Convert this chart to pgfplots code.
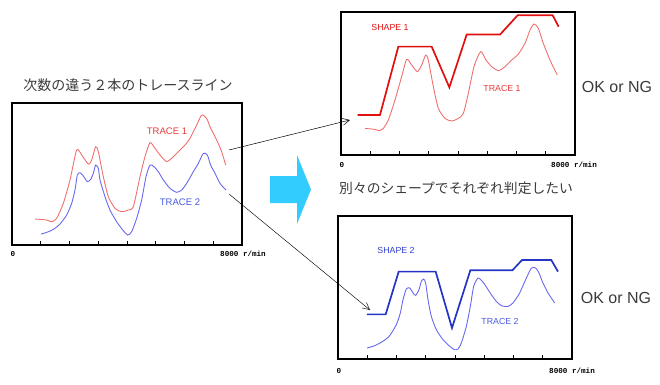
\documentclass[border=0pt]{standalone}
\usepackage{fontspec}
\setmainfont{Liberation Sans}
\newfontfamily\jp{Noto Sans CJK JP}
\newfontfamily\mono{Liberation Mono}
\usepackage{pgfplots}
\pgfplotsset{compat=1.18}
\usetikzlibrary{arrows.meta}
\definecolor{tr1}{HTML}{F07070}
\definecolor{sh1}{HTML}{E01010}
\definecolor{tr2}{HTML}{6868F0}
\definecolor{sh2}{HTML}{2434C4}
\definecolor{tx1}{HTML}{E83838}
\definecolor{tx2}{HTML}{4858E0}
\definecolor{cy}{HTML}{33CCFF}
\definecolor{gr}{HTML}{3A3A3A}
\pgfplotsset{
  panel/.style={
    scale only axis,
    xmin=0, xmax=8000, ymin=0, ymax=100,
    axis line style={black, line width=1.6pt},
    xtick={1000,2000,...,7000},
    xticklabels={},
    ytick=\empty,
    xtick pos=bottom,
    tick align=inside,
    major tick length=4pt,
    tick style={black, line width=0.9pt},
    clip=false,
    anchor=south west,
  },
}
\begin{document}
\begin{tikzpicture}[x=1pt,y=1pt]
\useasboundingbox (0,0) rectangle (660,384);

% ---------- left panel ----------
\begin{axis}[panel, at={(12pt,139pt)}, width=230pt, height=142pt]
\addplot[tr1, line width=0.9pt, smooth, tension=0.4] coordinates {
(800,18.3) (1206,17.6) (1380,16.4) (1554,18.8) (1785,29.3) (2017,45.8) (2249,66.9)
(2423,63.4) (2655,57.0) (2771,59.8) (2910,69.2) (3003,65.7) (3177,48.1) (3351,34.0)
(3583,25.8) (3814,23.5) (4046,24.6) (4220,27.0) (4452,48.1) (4626,62.2) (4800,72.1)
(4974,68.1) (5148,63.4) (5380,58.7) (5612,62.2) (5843,66.9) (6017,70.4) (6191,75.1)
(6423,84.5) (6597,91.5) (6771,89.2) (6887,83.3) (7119,73.9) (7293,65.7) (7432,56.3)};
\addplot[tr2, line width=0.9pt, smooth, tension=0.4] coordinates {
(1009,7.7) (1206,8.9) (1438,11.0) (1670,14.8) (1901,21.1) (2075,29.3) (2191,38.7)
(2272,49.3) (2365,50.9) (2481,48.6) (2620,44.6) (2736,46.2) (2829,50.5) (2910,56.3)
(3003,54.0) (3061,45.8) (3235,34.0) (3409,24.6) (3640,16.4) (3872,10.1) (4023,7.0)
(4162,9.4) (4336,18.8) (4510,31.7) (4661,48.1) (4800,56.3) (4939,55.2) (5090,51.6)
(5264,45.8) (5496,39.9) (5727,37.1) (5901,38.7) (6075,43.4) (6307,51.6) (6481,57.5)
(6655,64.5) (6794,63.4) (6910,56.3) (7061,50.5) (7235,43.4) (7443,38.7)};
\end{axis}

% ---------- top right panel ----------
\begin{axis}[panel, at={(341pt,229pt)}, width=234pt, height=143pt]
\addplot[sh1, line width=1.7pt] coordinates {
(570,28.0) (1333,28.0) (1960,75.8) (3100,75.8) (3704,47.3) (4296,84.2) (5436,84.2)
(6040,97.7) (7236,97.7) (7442,89.7)};
\addplot[tr1, line width=0.9pt, smooth, tension=0.4] coordinates {
(820,18.6) (1162,17.9) (1311,17.0) (1447,18.6) (1618,24.5) (1846,38.5) (2074,54.8)
(2245,66.9) (2416,62.9) (2610,58.3) (2758,62.9) (2895,69.9) (2986,66.4) (3157,47.8)
(3328,32.6) (3556,25.6) (3783,23.8) (4011,25.6) (4182,29.1) (4353,43.1) (4547,61.8)
(4775,72.3) (4957,66.4) (5151,61.8) (5379,59.0) (5607,61.8) (5835,66.4) (6063,70.6)
(6291,78.1) (6462,87.4) (6598,91.6) (6746,88.6) (6917,78.1) (7145,66.4) (7396,55.9)};
\end{axis}

% ---------- bottom right panel ----------
\begin{axis}[panel, at={(338pt,25pt)}, width=234pt, height=143pt]
\addplot[sh2, line width=1.7pt] coordinates {
(991,31.2) (1630,31.2) (2074,61.1) (3339,61.1) (3897,21.7) (4524,62.0) (5960,62.0)
(6291,69.2) (7293,69.2) (7521,61.1)};
\addplot[tr2, line width=0.9pt, smooth, tension=0.4] coordinates {
(991,7.7) (1254,9.3) (1538,12.4) (1766,16.3) (1994,24.0) (2131,32.2) (2222,41.5)
(2336,49.0) (2450,49.7) (2564,46.2) (2655,44.5) (2769,48.5) (2849,54.3) (2929,55.9)
(2997,53.1) (3077,41.5) (3191,29.8) (3362,20.5) (3590,13.5) (3818,8.9) (3989,6.5)
(4103,7.0) (4217,11.2) (4387,22.8) (4524,36.8) (4638,50.8) (4786,56.6) (4934,54.3)
(5071,50.4) (5242,45.0) (5413,40.3) (5584,37.3) (5812,36.8) (5983,39.2) (6211,46.2)
(6439,56.6) (6610,63.6) (6758,63.6) (6872,60.1) (7008,53.1) (7179,46.2) (7407,39.2)};
\end{axis}

% ---------- texts ----------
\node[gr, font=\jp\fontsize{14}{16}\selectfont] at (128,299) {次数の違う２本のトレースライン};
\node[gr, font=\jp\fontsize{13.8}{16}\selectfont, anchor=west, inner sep=0pt] at (339,196) {別々のシェープでそれぞれ判定したい};

\node[tx1, font=\fontsize{9.5}{11}\selectfont] at (167,253) {TRACE 1};
\node[tx2, font=\fontsize{9.5}{11}\selectfont] at (180,182) {TRACE 2};
\node[sh1, font=\fontsize{8.8}{10}\selectfont] at (390,357) {SHAPE 1};
\node[tx1, font=\fontsize{8.8}{10}\selectfont] at (502,296) {TRACE 1};
\node[sh2!70!tx2, font=\fontsize{8.8}{10}\selectfont] at (396,134) {SHAPE 2};
\node[tx2, font=\fontsize{8.8}{10}\selectfont] at (500,63) {TRACE 2};

\node[gr, font=\fontsize{16}{18}\selectfont] at (617,297) {OK or NG};
\node[gr, font=\fontsize{16}{18}\selectfont] at (616,86) {OK or NG};

\node[font=\mono\bfseries\fontsize{7.6}{9}\selectfont] at (13,130) {0};
\node[font=\mono\bfseries\fontsize{7.6}{9}\selectfont, anchor=west, inner sep=0pt] at (220,130) {8000 r/min};
\node[font=\mono\bfseries\fontsize{7.6}{9}\selectfont] at (342,219) {0};
\node[font=\mono\bfseries\fontsize{7.6}{9}\selectfont, anchor=west, inner sep=0pt] at (551,219) {8000 r/min};
\node[font=\mono\bfseries\fontsize{7.6}{9}\selectfont] at (339,13) {0};
\node[font=\mono\bfseries\fontsize{7.6}{9}\selectfont, anchor=west, inner sep=0pt] at (549,13) {8000 r/min};

% ---------- arrows ----------
\draw[line width=0.5pt, -{Straight Barb[length=7pt, width=7pt]}] (229,234) -- (350,264);
\draw[line width=0.45pt, -{Straight Barb[length=7pt, width=7pt]}] (229,190) -- (370,74);
\fill[cy] (270,181) -- (297,181) -- (297,160) -- (311,194.5) -- (297,229) -- (297,208) -- (270,208) -- cycle;
\end{tikzpicture}
\end{document}
